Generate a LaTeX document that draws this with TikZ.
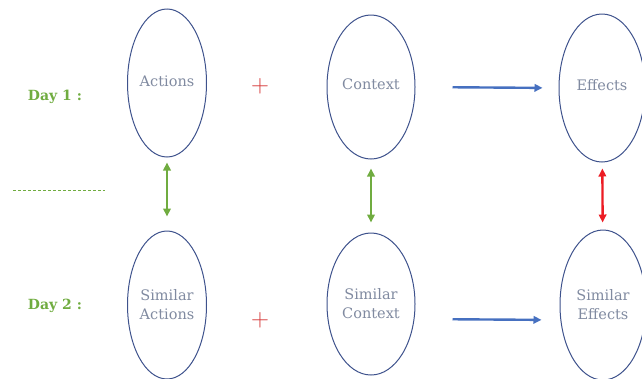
\documentclass[tikz,border=0pt]{standalone}
\usepackage{fontspec}
\setmainfont{DejaVu Serif}
\usetikzlibrary{arrows.meta,shapes.geometric}
\definecolor{ringblue}{RGB}{62,82,140}
\definecolor{wordgray}{RGB}{128,138,160}
\definecolor{daygreen}{RGB}{112,172,64}
\definecolor{flowblue}{RGB}{70,112,192}
\definecolor{linkred}{RGB}{236,28,36}
\definecolor{plusred}{RGB}{212,52,52}
\begin{document}
\begin{tikzpicture}[>={Triangle[length=8pt,width=7.5pt]},x=1pt,y=-1pt,
  blob/.style={ellipse,draw=ringblue,line width=1pt,inner sep=0pt,
    text=wordgray,align=center,font=\fontsize{14.5}{19}\selectfont},
  day/.style={text=daygreen,font=\fontsize{14}{16}\selectfont\bfseries},
  same/.style={<->,line width=2.4pt,daygreen},
  flow/.style={->,line width=2.4pt,flowblue},
  plus/.style={text=plusred,font=\fontsize{27}{27}\selectfont}]
  \useasboundingbox (0,0) rectangle (642,378);

  % day 1
  \node[blob,minimum width=79pt,minimum height=148pt] (act) at (167,83) {\raisebox{3pt}{Actions}};
  \node[blob,minimum width=88pt,minimum height=144pt] (ctx) at (371,87) {\raisebox{5pt}{Context}};
  \node[blob,minimum width=86pt,minimum height=148pt] (eff) at (602,88) {\raisebox{6pt}{Effects}};
  % day 2
  \node[blob,minimum width=79pt,minimum height=148pt] (sact) at (167,305) {Similar\\Actions};
  \node[blob,minimum width=88pt,minimum height=142pt] (sctx) at (371,304) {Similar\\Context};
  \node[blob,minimum width=86pt,minimum height=150pt] (seff) at (603,305) {Similar\\Effects};

  \node[day] (d1) at (55,97) {Day 1 :};
  \node[day] (d2) at (55,306) {Day 2 :};
  \node[plus] (p1) at (260,86) {$+$};
  \node[plus] (p2) at (260,320) {$+$};

  \coordinate (cutl) at (13,190);
  \coordinate (cutr) at (105,190);
  \draw[daygreen,line width=0.6pt,dash pattern=on 3pt off 2pt] (cutl) -- (cutr);

  \draw[same,shorten <=5pt,shorten >=14pt] (act) -- (sact);
  \draw[same,shorten <=9pt,shorten >=10pt] (ctx) -- (sctx);
  \draw[same,linkred,shorten <=6pt,shorten >=7pt] (eff) -- (seff);
  \draw[flow,shorten <=37pt,shorten >=16pt] (ctx.east) -- (eff.west);
  \draw[flow,shorten <=37pt,shorten >=18pt] ([yshift=-15pt]sctx.east) -- ([yshift=-15pt]seff.west);
\end{tikzpicture}
\end{document}
